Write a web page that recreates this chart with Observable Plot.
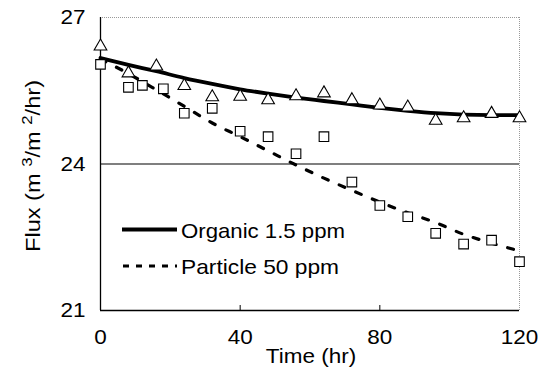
<!DOCTYPE html>
<html>
<head>
<meta charset="utf-8">
<script src="https://cdn.jsdelivr.net/npm/d3@7"></script>
<script src="https://cdn.jsdelivr.net/npm/@observablehq/plot@0.6"></script>
<style>
  html, body { margin: 0; padding: 0; background: #fff; }
  #chart { width: 545px; height: 381px; }
</style>
</head>
<body>
<div id="chart"></div>
<script>
// ---- data ----
const organicTimes = [0, 8, 16, 24, 32, 40, 48, 56, 64, 72, 80, 88, 96, 104, 112, 120];
const organicFlux  = [26.41, 25.86, 26.0, 25.6, 25.37, 25.38, 25.31, 25.39, 25.45, 25.31, 25.2, 25.16, 24.89, 24.94, 25.03, 24.94];

const particleTimes = [0, 8, 12, 18, 24, 32, 40, 48, 56, 64, 72, 80, 88, 96, 104, 112, 120];
const particleFlux  = [26.04, 25.57, 25.61, 25.54, 25.04, 25.14, 24.67, 24.56, 24.21, 24.56, 23.63, 23.15, 22.92, 22.58, 22.36, 22.44, 22.0];

// fitted trend lines as drawn in the reference
const fitTimes    = [0, 8, 16, 24, 32, 40, 48, 56, 64, 72, 80, 88, 96, 104, 112, 120];
const organicFit  = [26.17, 26.03, 25.9, 25.76, 25.64, 25.53, 25.44, 25.36, 25.29, 25.22, 25.15, 25.09, 25.04, 25.01, 25.0, 25.0];
const particleFit = [26.15, 25.85, 25.52, 25.18, 24.84, 24.56, 24.27, 23.98, 23.71, 23.46, 23.22, 23.0, 22.8, 22.56, 22.38, 22.22];

const xTicks = [0, 40, 80, 120];
const yTicks = [21, 24, 27];
const gridY = [24];
const legendLabels = ["Organic 1.5 ppm", "Particle 50 ppm"];
const xTitle = "Time (hr)";

// ---- tables ----
const organicPts = organicTimes.map((t, i) => ({t, v: organicFlux[i]}));
const particlePts = particleTimes.map((t, i) => ({t, v: particleFlux[i]}));
const organicLine = fitTimes.map((t, i) => ({t, v: organicFit[i]}));
const particleLine = fitTimes.map((t, i) => ({t, v: particleFit[i]}));

const FONT = "'Liberation Sans', Arial, sans-serif";

const plot = Plot.plot({
  width: 545,
  height: 381,
  marginLeft: 100,
  marginRight: 26,
  marginTop: 17,
  marginBottom: 71,
  style: {fontFamily: FONT, fontSize: "21px", background: "#fff", color: "#000", overflow: "visible"},
  x: {domain: [0, 120]},
  y: {domain: [21, 27]},
  marks: [
    // plot box: dotted grey top/right, black left/bottom
    Plot.ruleY([27], {stroke: "#999", strokeWidth: 1, strokeDasharray: "1,1"}),
    Plot.ruleX([120], {stroke: "#999", strokeWidth: 1, strokeDasharray: "1,1"}),
    Plot.ruleY(gridY, {stroke: "#000", strokeWidth: 1.2}),
    Plot.ruleY([21], {stroke: "#000", strokeWidth: 1.3}),
    Plot.ruleX([0], {stroke: "#000", strokeWidth: 1.3}),
    Plot.axisY(yTicks, {tickSize: 0, tickPadding: 15, label: null, fontSize: 21}),
    Plot.axisX(xTicks, {tickSize: 0, tickPadding: 19, label: null, fontSize: 21}),
    Plot.axisX(xTicks.slice(1, -1), {tickSize: 5, text: null, label: null, dy: -5, stroke: "#000"}),
    // trend lines
    Plot.line(organicLine, {x: "t", y: "v", stroke: "#000", strokeWidth: 3.8, curve: "monotone-x"}),
    Plot.line(particleLine, {x: "t", y: "v", stroke: "#000", strokeWidth: 3.2, strokeDasharray: "6,12", curve: "monotone-x"}),
    // markers
    Plot.dot(organicPts, {x: "t", y: "v", symbol: "triangle", r: 4.7, fill: "#fff", stroke: "#000", strokeWidth: 1.1}),
    Plot.dot(particlePts, {x: "t", y: "v", symbol: "square", r: 5.4, fill: "#fff", stroke: "#000", strokeWidth: 1.1})
  ]
});

document.getElementById("chart").appendChild(plot);

// legend and axis titles (real SVG text)
const svg = d3.select(plot);
const g = svg.append("g").attr("font-family", FONT).attr("font-size", 21).attr("fill", "#000")
  .attr("text-anchor", "start");

// legend
g.append("line").attr("x1", 122).attr("x2", 177).attr("y1", 229.5).attr("y2", 229.5)
  .attr("stroke", "#000").attr("stroke-width", 3.8);
g.append("text").attr("x", 181).attr("y", 237.5).attr("data-len", 164).text(legendLabels[0]);
g.append("line").attr("x1", 123).attr("x2", 177).attr("y1", 266).attr("y2", 266)
  .attr("stroke", "#000").attr("stroke-width", 3.2).attr("stroke-dasharray", "6,7");
g.append("text").attr("x", 181).attr("y", 274).attr("data-len", 158).text(legendLabels[1]);

// x title
g.append("text").attr("x", 311).attr("y", 363).attr("text-anchor", "middle").text(xTitle);

// y title with superscripts
const yt = g.append("text").attr("transform", "translate(40,166) rotate(-90)")
  .attr("text-anchor", "middle").attr("data-len", 172);
yt.append("tspan").text("Flux (m ");
yt.append("tspan").attr("baseline-shift", "super").attr("font-size", 15).text("3");
yt.append("tspan").text("/m ");
yt.append("tspan").attr("baseline-shift", "super").attr("font-size", 15).text("2");
yt.append("tspan").text("/hr)");

// widen glyphs slightly, as in the reference
const STRETCH = 1.07;
plot.querySelectorAll("text").forEach(el => {
  const len = el.getComputedTextLength();
  if (len > 0) {
    const target = el.getAttribute("data-len") ? +el.getAttribute("data-len") : len * STRETCH;
    el.setAttribute("textLength", target.toFixed(1));
    el.setAttribute("lengthAdjust", "spacingAndGlyphs");
  }
});
</script>
</body>
</html>
